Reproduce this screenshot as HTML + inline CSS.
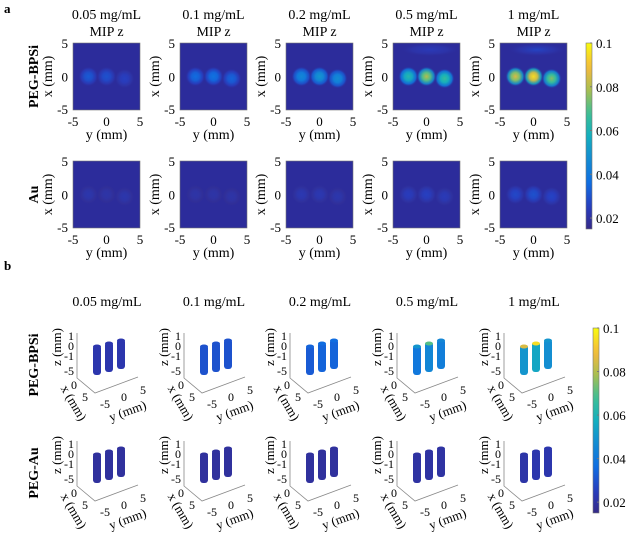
<!DOCTYPE html>
<html><head><meta charset="utf-8"><style>
body{margin:0;background:#fff;}
svg{display:block;font-family:"Liberation Serif",serif;}
</style></head><body>
<svg id="fig" width="627" height="548" viewBox="0 0 627 548" xmlns="http://www.w3.org/2000/svg">
<defs id="defs"></defs>
<text x="4" y="13" font-size="13" font-weight="bold">a</text>
<text x="4" y="270" font-size="13" font-weight="bold">b</text>
<g id="root"></g>
</svg>
<script>
const concentrations = ["0.05 mg/mL","0.1 mg/mL","0.2 mg/mL","0.5 mg/mL","1 mg/mL"];
const rowsA = ["PEG-BPSi","Au"];
const rowsB = ["PEG-BPSi","PEG-Au"];
// peak intensity of three spots (left, middle, right) per panel
const bpsiPeaks = [[0.032,0.030,0.026],[0.036,0.038,0.034],[0.045,0.050,0.047],[0.062,0.080,0.066],[0.085,0.095,0.075]];
const auPeaks = [[0.022,0.021,0.022],[0.021,0.021,0.021],[0.023,0.023,0.022],[0.025,0.026,0.024],[0.028,0.030,0.027]];
const bpsiCyl = [[0.022,0.022,0.022],[0.030,0.030,0.030],[0.032,0.034,0.034],[0.040,0.045,0.042],[0.050,0.055,0.048]];
const bpsiTop = [[0.022,0.022,0.022],[0.030,0.030,0.030],[0.034,0.036,0.036],[0.050,0.070,0.045],[0.085,0.095,0.050]];
const auCyl = [[0.019,0.019,0.019],[0.019,0.019,0.019],[0.019,0.019,0.019],[0.020,0.020,0.020],[0.021,0.022,0.022]];
const spotY = [-2.7,0,2.7];
const cbTicks = [0.1,0.08,0.06,0.04,0.02];
const cmin=0.015, cmax=0.1;

const stops=[[0,[53,42,135]],[0.12,[40,60,190]],[0.25,[15,110,225]],[0.38,[20,140,210]],[0.5,[20,175,190]],[0.62,[60,190,150]],[0.75,[170,190,80]],[0.87,[245,185,60]],[1,[249,251,14]]];
function col(v){let t=Math.max(0,Math.min(1,(v-cmin)/(cmax-cmin)));for(let i=1;i<stops.length;i++){if(t<=stops[i][0]){const a=stops[i-1],b=stops[i];const f=(t-a[0])/(b[0]-a[0]);const c=a[1].map((x,k)=>Math.round(x+(b[1][k]-x)*f));return `rgb(${c})`;}}return 'rgb(249,251,14)';}
const NS="http://www.w3.org/2000/svg";
const root=document.getElementById('root'),defs=document.getElementById('defs');
function el(tag,attrs,parent,txt){const e=document.createElementNS(NS,tag);for(const k in attrs)e.setAttribute(k,attrs[k]);if(txt!==undefined)e.textContent=txt;(parent||root).appendChild(e);return e;}
const colX=[73,180,286,393,500], W=67;
const rowYA=[43,161];
const bg='rgb(44,44,155)';
let gid=0;
function txt(x,y,s,size,parent,extra){const e=el('text',Object.assign({x:x,y:y,'font-size':size||12,'text-anchor':'middle'},extra||{}),parent,s);return e;}

concentrations.forEach((c,i)=>{const t=txt(colX[i]+W/2,19,c,14);


const m=txt(colX[i]+W/2,36,'MIP z',14);

});

rowsA.forEach((r,ri)=>{
  const y0=rowYA[ri];
  const rl=el('text',{x:0,y:0,'font-size':14,'font-weight':'bold','text-anchor':'middle',transform:`translate(38,${y0+W/2}) rotate(-90)`},root,r);
  
  
  const peaks=ri===0?bpsiPeaks:auPeaks;
  concentrations.forEach((c,ci)=>{
    const x0=colX[ci];
    const g=el('g',{});
    
    
    el('rect',{x:x0,y:y0,width:W,height:W,fill:bg,stroke:'#777','stroke-width':0.6},g);
    const sx=v=>x0+(v+5)/10*W, sy=v=>y0+(5-v)/10*W;
    if(ri===0&&ci>=3){
      const id='band'+(gid++);
      const rg=el('radialGradient',{id:id,cx:0.5,cy:0.5,r:0.5},defs);
      el('stop',{offset:0,'stop-color':col(0.024+0.003*(ci-3)),'stop-opacity':1},rg);
      el('stop',{offset:0.6,'stop-color':col(0.022),'stop-opacity':0.7},rg);
      el('stop',{offset:1,'stop-color':bg,'stop-opacity':0},rg);
      el('ellipse',{cx:x0+W*0.55,cy:y0+W*0.1,rx:W*0.45,ry:W*0.1,fill:`url(#${id})`},g);
    }
    peaks[ci].forEach((p,k)=>{
      const id='rg'+(gid++);
      const rg=el('radialGradient',{id:id},defs);
      el('stop',{offset:0,'stop-color':col(p)},rg);
      el('stop',{offset:0.4,'stop-color':col(cmin+(p-cmin)*0.85)},rg);
      el('stop',{offset:0.75,'stop-color':col(cmin+(p-cmin)*0.5),'stop-opacity':0.85},rg);
      el('stop',{offset:1,'stop-color':bg,'stop-opacity':0},rg);
      const cx=sx(spotY[k]),cy=sy(k===2?-0.3:0);
      const s=el('circle',{cx:cx,cy:cy,r:W*0.15,fill:`url(#${id})`},g);
      
      
    });
    [[5,y0+5],[0,y0+W/2+5],[-5,y0+W+4]].forEach(([v,yy])=>txt(x0-5,yy,String(v),13,g,{'text-anchor':'end'}));
    [-5,0,5].forEach(v=>txt(sx(v),y0+W+16,String(v),13,g));
    txt(x0+W/2,y0+W+29,'y (mm)',14,g);
    el('text',{x:0,y:0,'font-size':14,'text-anchor':'middle',transform:`translate(${x0-21},${y0+W/2}) rotate(-90)`},g,'x (mm)');
  });
});

function colorbar(x,y0,y1,name){
  const g=el('g',{});
  
  
  const id='cb'+(gid++);
  const lg=el('linearGradient',{id:id,x1:0,y1:1,x2:0,y2:0},defs);
  for(let i=0;i<=20;i++){el('stop',{offset:i/20,'stop-color':col(cmin+(cmax-cmin)*i/20)},lg);}
  el('rect',{x:x,y:y0,width:6,height:y1-y0,fill:`url(#${id})`,stroke:'#777','stroke-width':0.6},g);
  const sc=v=>y1-(v-cmin)/(cmax-cmin)*(y1-y0);
  cbTicks.forEach(v=>{txt(x+10,sc(v)+5,String(v),13,g,{'text-anchor':'start'});el('line',{x1:x+6,x2:x+4,y1:sc(v),y2:sc(v),stroke:'#777'},g);});
}
colorbar(586,43,229,'colorbar-a');
colorbar(593,328,513,'colorbar-b');

const colXB=[73,180,286,393,500], rowYB=[333,441];
concentrations.forEach((c,i)=>{const t=txt(colXB[i]+34,306,c,14);

});
rowsB.forEach((r,ri)=>{
  const y0=rowYB[ri];
  const rl=el('text',{x:0,y:0,'font-size':14,'font-weight':'bold','text-anchor':'middle',transform:`translate(38,${y0+32}) rotate(-90)`},root,r);
  
  
  concentrations.forEach((c,ci)=>{
    const x0=colXB[ci];
    const g=el('g',{});
    
    
    el('path',{d:`M${x0+4} ${y0} V${y0+45} L${x0+22} ${y0+60} L${x0+65} ${y0+44}`,fill:'none',stroke:'#888','stroke-width':0.8},g);
    [['1',3],['0',13],['-1',23]].forEach(([s,dy])=>txt(x0+1,y0+dy+4,s,12,g,{'text-anchor':'end'}));
    el('text',{x:0,y:0,'font-size':13,'text-anchor':'middle',transform:`translate(${x0-12},${y0+14}) rotate(-90)`},g,'z (mm)');
    txt(x0-4,y0+42,'-5',12,g);txt(x0+1,y0+56,'0',12,g);txt(x0+12,y0+68,'5',12,g);
    el('text',{x:0,y:0,'font-size':13,'text-anchor':'middle',transform:`translate(${x0-3},${y0+72}) rotate(60)`},g,'x (mm)');
    txt(x0+32,y0+75,'-5',12,g);txt(x0+51,y0+68,'0',12,g);txt(x0+70,y0+61,'5',12,g);
    el('text',{x:0,y:0,'font-size':13,'text-anchor':'middle',transform:`translate(${x0+56},${y0+82}) rotate(-20)`},g,'y (mm)');
    const vals=ri===0?bpsiCyl[ci]:auCyl[ci], tops=ri===0?bpsiTop[ci]:auCyl[ci];
    [0,1,2].forEach(k=>{
      const cx=x0+24+k*12, ct=y0+12-k*3, h=30;
      const cy=el('rect',{x:cx-4,y:ct,width:8,height:h,rx:3,fill:col(vals[k])},g);
      
      
      el('ellipse',{cx:cx,cy:ct+1.5,rx:4,ry:2,fill:col(tops[k])},g);
    });
  });
});
</script>
</body></html>
